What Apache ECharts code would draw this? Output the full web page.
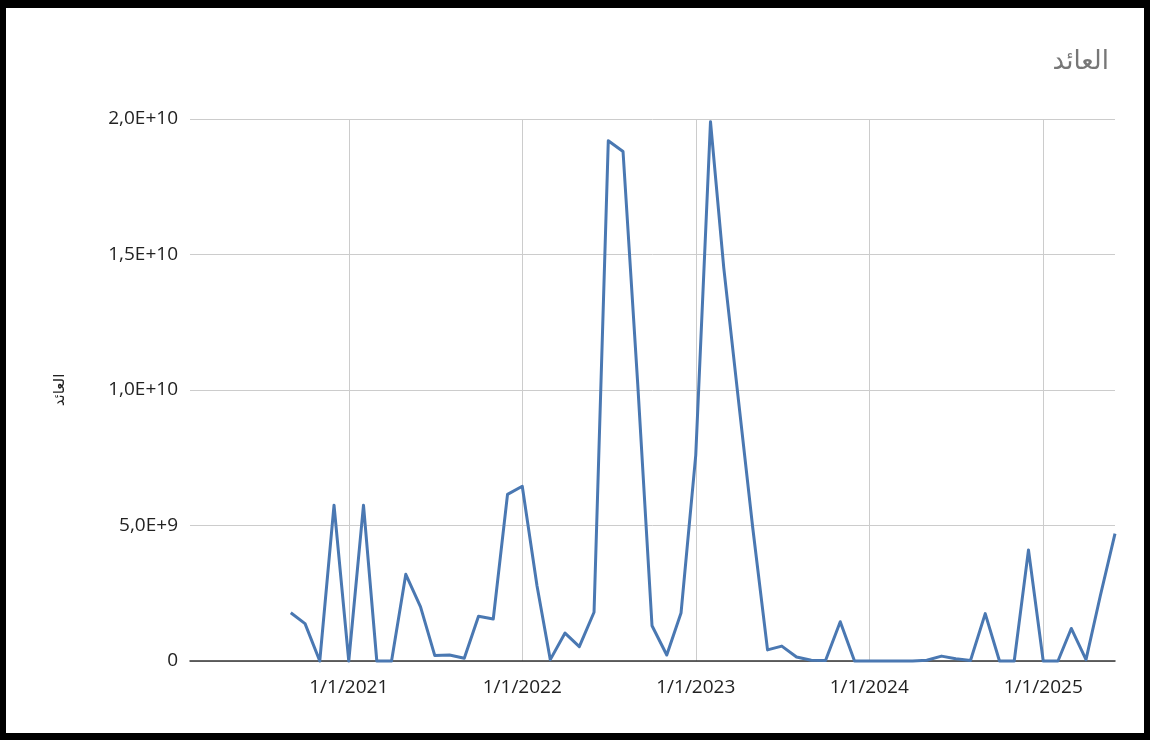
<!DOCTYPE html>
<html>
<head>
<meta charset="utf-8">
<script src="https://cdn.jsdelivr.net/npm/echarts@6/dist/echarts.min.js"></script>
<style>
  html, body { margin: 0; padding: 0; background: #000; }
  #frame { position: absolute; left: 0; top: 0; width: 1150px; height: 740px; background: #000; }
  #chart { position: absolute; left: 6px; top: 8px; width: 1138px; height: 725px; background: #fff; }
</style>
</head>
<body>
<div id="frame"><div id="chart"></div></div>
<script>
// Monthly revenue, Sep 2020 – Jun 2025
const months = [
  '2020-09-01','2020-10-01','2020-11-01','2020-12-01',
  '2021-01-01','2021-02-01','2021-03-01','2021-04-01','2021-05-01','2021-06-01',
  '2021-07-01','2021-08-01','2021-09-01','2021-10-01','2021-11-01','2021-12-01',
  '2022-01-01','2022-02-01','2022-03-01','2022-04-01','2022-05-01','2022-06-01',
  '2022-07-01','2022-08-01','2022-09-01','2022-10-01','2022-11-01','2022-12-01',
  '2023-01-01','2023-02-01','2023-03-01','2023-04-01','2023-05-01','2023-06-01',
  '2023-07-01','2023-08-01','2023-09-01','2023-10-01','2023-11-01','2023-12-01',
  '2024-01-01','2024-02-01','2024-03-01','2024-04-01','2024-05-01','2024-06-01',
  '2024-07-01','2024-08-01','2024-09-01','2024-10-01','2024-11-01','2024-12-01',
  '2025-01-01','2025-02-01','2025-03-01','2025-04-01','2025-05-01','2025-06-01'
];
const revenue = [
  1.78e9, 1.38e9, 0, 5.75e9,
  0, 5.75e9, 0, 0, 3.2e9, 2.0e9,
  0.2e9, 0.22e9, 0.1e9, 1.65e9, 1.55e9, 6.15e9,
  6.45e9, 2.78e9, 0.05e9, 1.03e9, 0.53e9, 1.8e9,
  19.2e9, 18.8e9, 10.2e9, 1.3e9, 0.22e9, 1.77e9,
  7.6e9, 19.9e9, 14.5e9, 9.6e9, 4.9e9, 0.41e9,
  0.55e9, 0.15e9, 0.03e9, 0.02e9, 1.45e9, 0,
  0, 0, 0, 0, 0.03e9, 0.18e9,
  0.08e9, 0.02e9, 1.75e9, 0, 0, 4.1e9,
  0, 0, 1.2e9, 0.05e9, 2.4e9, 4.7e9
];
const yTicks = [0, 5e9, 1e10, 1.5e10, 2e10];
const seriesName = 'العائد';

const pointData = months.map((m, i) => [m, revenue[i]]);

// "2,0E+10" style scientific labels with a decimal comma
function sciLabel(v) {
  if (v === 0) return '0';
  const exp = Math.floor(Math.log10(Math.abs(v)));
  const mant = (v / Math.pow(10, exp)).toFixed(1).replace('.', ',');
  return mant + 'E+' + exp;
}

const chart = echarts.init(document.getElementById('chart'), null, { renderer: 'canvas' });
chart.setOption({
  animation: false,
  backgroundColor: '#fff',
  title: {
    text: seriesName,
    right: 30,
    top: 36,
    textStyle: { fontFamily: 'DejaVu Sans', fontSize: 26, fontWeight: 'normal', color: '#777' }
  },
  grid: { left: 184, right: 29, top: 111, bottom: 72, containLabel: false },
  xAxis: {
    type: 'time',
    min: '2020-02-02',
    max: '2025-06-01',
    minInterval: 365 * 24 * 3600 * 1000,
    splitNumber: 5,
    axisLine: { show: true, onZero: true, lineStyle: { color: '#333', width: 1.5 } },
    axisTick: { show: false },
    axisLabel: {
      showMinLabel: false,
      showMaxLabel: false,
      margin: 17,
      color: '#222',
      fontFamily: 'Open Sans',
      fontSize: 19,
      formatter: function (value) {
        const d = new Date(value);
        return (d.getMonth() + 1) + '/' + d.getDate() + '/' + d.getFullYear();
      }
    },
    splitLine: { show: true, showMinLine: false, showMaxLine: false, lineStyle: { color: '#cccccc', width: 1 } }
  },
  yAxis: {
    type: 'value',
    min: yTicks[0],
    max: yTicks[yTicks.length - 1],
    interval: yTicks[1] - yTicks[0],
    name: seriesName,
    nameLocation: 'middle',
    nameGap: 122,
    nameRotate: 90,
    nameTextStyle: { fontFamily: 'DejaVu Sans', fontSize: 15, color: '#222' },
    axisLine: { show: false },
    axisTick: { show: false },
    axisLabel: {
      margin: 12,
      color: '#222',
      fontFamily: 'Open Sans',
      fontSize: 19,
      formatter: sciLabel
    },
    splitLine: { show: true, lineStyle: { color: '#cccccc', width: 1 } }
  },
  series: [{
    name: seriesName,
    type: 'line',
    data: pointData,
    showSymbol: false,
    symbol: 'none',
    lineStyle: { color: '#4a78b2', width: 3, join: 'round' },
    clip: false
  }]
});
</script>
</body>
</html>
